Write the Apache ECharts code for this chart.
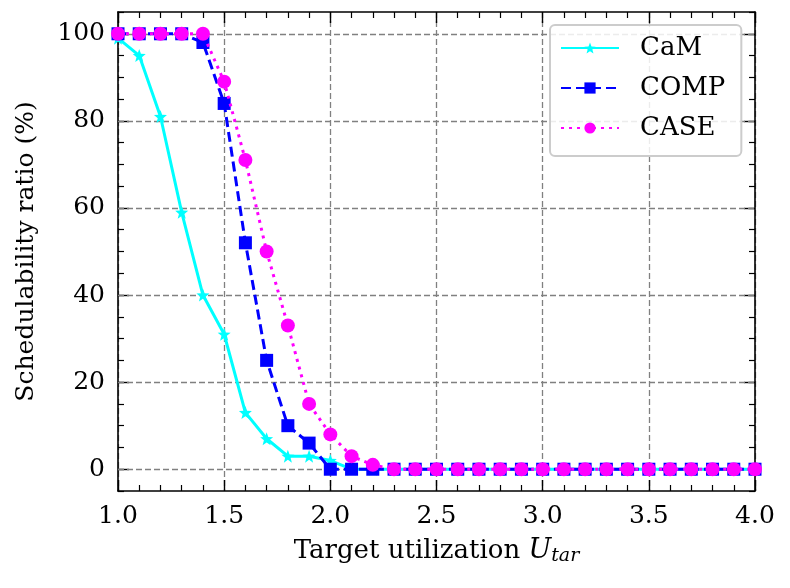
<!DOCTYPE html>
<html>
<head>
<meta charset="utf-8">
<script src="https://cdn.jsdelivr.net/npm/echarts@6/dist/echarts.min.js"></script>
<style>html,body{margin:0;padding:0;background:#fff}#c{width:790px;height:588px}</style>
</head>
<body>
<div id="c"></div>
<script>
const xValues = [1.0,1.1,1.2,1.3,1.4,1.5,1.6,1.7,1.8,1.9,2.0,2.1,2.2,2.3,2.4,2.5,2.6,2.7,2.8,2.9,3.0,3.1,3.2,3.3,3.4,3.5,3.6,3.7,3.8,3.9,4.0];
const camValues  = [99,95,81,59,40,31,13,7,3,3,2,0,0,0,0,0,0,0,0,0,0,0,0,0,0,0,0,0,0,0,0];
const compValues = [100,100,100,100,98,84,52,25,10,6,0,0,0,0,0,0,0,0,0,0,0,0,0,0,0,0,0,0,0,0,0];
const caseValues = [100,100,100,100,100,89,71,50,33,15,8,3,1,0,0,0,0,0,0,0,0,0,0,0,0,0,0,0,0,0,0];
const yMajorTicks = [0,20,40,60,80,100];
const seriesNames = ['CaM','COMP','CASE'];

function starPath() {
  let d = '';
  for (let k = 0; k < 10; k++) {
    const r = k % 2 === 0 ? 50 : 21;
    const a = (-90 + 36 * k) * Math.PI / 180;
    const px = (50 + r * Math.cos(a)).toFixed(2);
    const py = (50 + r * Math.sin(a)).toFixed(2);
    d += (k === 0 ? 'M' : 'L') + px + ',' + py + ' ';
  }
  return 'path://' + d + 'Z';
}
const pair = vals => xValues.map((x, i) => [x, vals[i]]);

const FONT = 'DejaVu Serif';
const FS = 25;
const NFS = 26;
const axisLineStyle = { color: '#000', width: 1.6 };

const chart = echarts.init(document.getElementById('c'), null, { renderer: 'canvas' });
chart.setOption({
  animation: false,
  backgroundColor: '#fff',
  textStyle: { fontFamily: FONT },
  grid: { left: 118, right: 35, top: 12, bottom: 97, containLabel: false },
  legend: {
    orient: 'vertical',
    left: 550, top: 25,
    data: seriesNames,
    itemWidth: 58, itemHeight: 14, itemGap: 12,
    padding: [9, 16, 14, 10],
    backgroundColor: 'rgba(255,255,255,0.85)',
    borderColor: '#cccccc', borderWidth: 2, borderRadius: 5,
    textStyle: { fontFamily: FONT, fontSize: 26, color: '#000', lineHeight: 28, padding: [0, 0, 0, 16] }
  },
  xAxis: [
    {
      type: 'value', position: 'bottom', min: 1, max: 4, interval: 0.5,
      name: 'Target utilization {i|U}{s|tar}',
      nameLocation: 'middle', nameGap: 45,
      nameTextStyle: {
        fontFamily: FONT, fontSize: NFS, color: '#000', lineHeight: 30,
        rich: {
          i: { fontFamily: FONT, fontSize: NFS + 1, fontStyle: 'italic', color: '#000', lineHeight: 30 },
          s: { fontFamily: FONT, fontSize: 19, fontStyle: 'italic', color: '#000', lineHeight: 17, verticalAlign: 'bottom' }
        }
      },
      axisLine: { show: true, onZero: false, lineStyle: axisLineStyle },
      axisTick: { show: true, inside: true, length: 11, lineStyle: { color: '#000', width: 1.4 } },
      minorTick: { show: true, splitNumber: 5, length: 6, lineStyle: { color: '#000', width: 1.2 } },
      axisLabel: { fontFamily: FONT, fontSize: FS, color: '#000', margin: 13, formatter: v => v.toFixed(1) },
      splitLine: { show: true, lineStyle: { color: '#808080', type: [6, 3], width: 1.3 } }
    },
    {
      type: 'value', position: 'top', min: 1, max: 4, interval: 0.5,
      axisLine: { show: true, onZero: false, lineStyle: axisLineStyle },
      axisTick: { show: true, inside: true, length: 11, lineStyle: { color: '#000', width: 1.4 } },
      minorTick: { show: true, splitNumber: 5, length: 6, lineStyle: { color: '#000', width: 1.2 } },
      axisLabel: { show: false },
      splitLine: { show: false }
    }
  ],
  yAxis: [
    {
      type: 'value', position: 'left', min: -5, max: 105,
      name: 'Schedulability ratio (%)',
      nameLocation: 'middle', nameGap: 79,
      nameTextStyle: { fontFamily: FONT, fontSize: FS, color: '#000' },
      axisLine: { show: true, onZero: false, lineStyle: axisLineStyle },
      axisTick: { show: true, inside: true, length: 11, customValues: yMajorTicks, lineStyle: { color: '#000', width: 1.4 } },
      axisLabel: { fontFamily: FONT, fontSize: FS, color: '#000', margin: 13, customValues: yMajorTicks },
      splitLine: { show: false }
    },
    {
      type: 'value', position: 'right', min: -5, max: 105,
      axisLine: { show: true, onZero: false, lineStyle: axisLineStyle },
      axisTick: { show: true, inside: true, length: 11, customValues: yMajorTicks, lineStyle: { color: '#000', width: 1.4 } },
      axisLabel: { show: false },
      splitLine: { show: false }
    },
    {
      type: 'value', position: 'left', min: -5, max: 105, interval: 5,
      axisLine: { show: false },
      axisTick: { show: true, inside: true, length: 6, lineStyle: { color: '#000', width: 1.2 } },
      axisLabel: { show: false },
      splitLine: { show: false }
    },
    {
      type: 'value', position: 'right', min: -5, max: 105, interval: 5,
      axisLine: { show: false },
      axisTick: { show: true, inside: true, length: 6, lineStyle: { color: '#000', width: 1.2 } },
      axisLabel: { show: false },
      splitLine: { show: false }
    }
  ],
  series: [
    {
      name: 'CaM', type: 'line', data: pair(camValues), z: 3,
      symbol: starPath(), symbolSize: 13,
      itemStyle: { color: '#00ffff' },
      lineStyle: { color: '#00ffff', width: 3, type: 'solid' },
      markLine: {
        silent: true, symbol: 'none', label: { show: false }, animation: false, z: 1,
        lineStyle: { color: '#808080', type: [6, 3], width: 1.3 },
        data: yMajorTicks.map(v => ({ yAxis: v }))
      }
    },
    {
      name: 'COMP', type: 'line', data: pair(compValues), z: 4,
      symbol: 'rect', symbolSize: 13,
      itemStyle: { color: '#0000ff' },
      lineStyle: { color: '#0000ff', width: 3, type: [10, 5] }
    },
    {
      name: 'CASE', type: 'line', data: pair(caseValues), z: 5,
      symbol: 'circle', symbolSize: 14,
      itemStyle: { color: '#ff00ff' },
      lineStyle: { color: '#ff00ff', width: 3, type: [3, 5] }
    }
  ]
});
</script>
</body>
</html>
